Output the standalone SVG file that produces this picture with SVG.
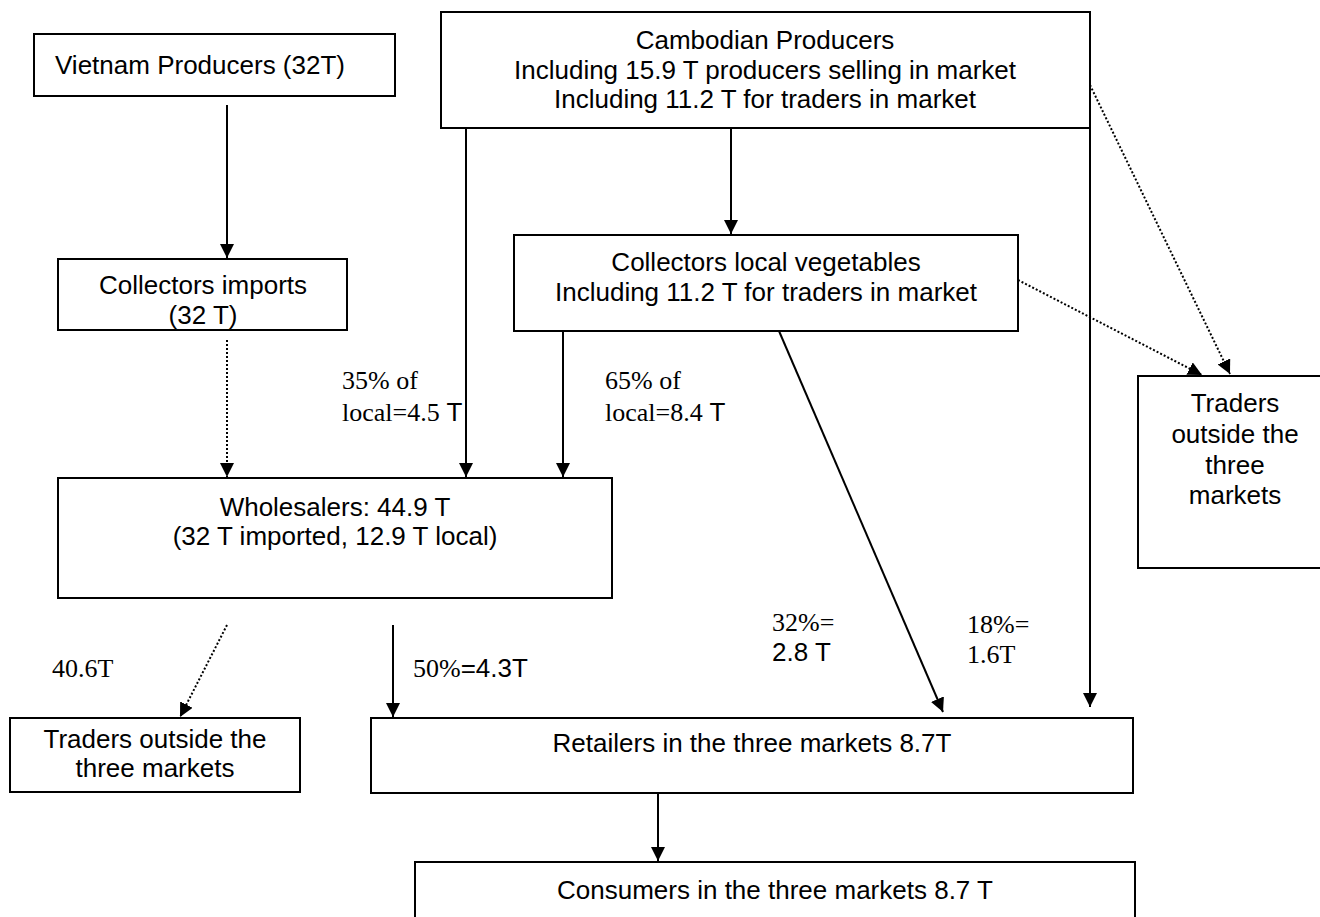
<svg xmlns="http://www.w3.org/2000/svg" width="1320" height="917" viewBox="0 0 1320 917">
  <style>
    .box { fill: #ffffff; stroke: #000000; stroke-width: 2; }
    .lbl { font-family: "Liberation Sans", Arial, sans-serif; font-size: 26px; fill: #000000; }
    .mid { text-anchor: middle; }
    .ser { font-family: "Liberation Serif", "Times New Roman", serif; font-size: 26px; fill: #000000; }
    .solid { fill: none; stroke: #000000; stroke-width: 2; }
    .dot { fill: none; stroke: #000000; stroke-width: 2; stroke-dasharray: 2 2; }
  </style>
  <defs>
    <marker id="arrow" viewBox="0 0 12 12" refX="12" refY="6" markerWidth="7" markerHeight="7" markerUnits="strokeWidth" orient="auto">
      <path d="M0,0 L12,6 L0,12 Z" fill="#000000"/>
    </marker>
  </defs>
  <rect width="1320" height="917" fill="#ffffff"/>

  <g id="vietnam-producers">
    <rect class="box" x="34" y="34" width="361" height="62"/>
    <text class="lbl" x="55" y="74">Vietnam Producers (32T)</text>
  </g>

  <g id="cambodian-producers">
    <rect class="box" x="441" y="12" width="649" height="116"/>
    <text class="lbl mid" x="765" y="49">Cambodian Producers</text>
    <text class="lbl mid" x="765" y="79">Including 15.9 T producers selling in market</text>
    <text class="lbl mid" x="765" y="108">Including 11.2 T for traders in market</text>
  </g>

  <g id="collectors-imports">
    <rect class="box" x="58" y="259" width="289" height="71"/>
    <text class="lbl mid" x="203" y="294">Collectors imports</text>
    <text class="lbl mid" x="203" y="324">(32 T)</text>
  </g>

  <g id="collectors-local">
    <rect class="box" x="514" y="235" width="504" height="96"/>
    <text class="lbl mid" x="766" y="271">Collectors local vegetables</text>
    <text class="lbl mid" x="766" y="301">Including 11.2 T for traders in market</text>
  </g>

  <g id="traders-outside-right">
    <rect class="box" x="1138" y="376" width="190" height="192"/>
    <text class="lbl mid" x="1235" y="412">Traders</text>
    <text class="lbl mid" x="1235" y="443">outside the</text>
    <text class="lbl mid" x="1235" y="474">three</text>
    <text class="lbl mid" x="1235" y="504">markets</text>
  </g>

  <g id="wholesalers">
    <rect class="box" x="58" y="478" width="554" height="120"/>
    <text class="lbl mid" x="335" y="516">Wholesalers: 44.9 T</text>
    <text class="lbl mid" x="335" y="545">(32 T imported, 12.9 T local)</text>
  </g>

  <g id="traders-outside-left">
    <rect class="box" x="10" y="718" width="290" height="74"/>
    <text class="lbl mid" x="155" y="748">Traders outside the</text>
    <text class="lbl mid" x="155" y="777">three markets</text>
  </g>

  <g id="retailers">
    <rect class="box" x="371" y="718" width="762" height="75"/>
    <text class="lbl mid" x="752" y="752">Retailers in the three markets 8.7T</text>
  </g>

  <g id="consumers">
    <rect class="box" x="415" y="862" width="720" height="70"/>
    <text class="lbl mid" x="775" y="899">Consumers in the three markets 8.7 T</text>
  </g>

  <g id="connectors">
    <line class="solid" x1="227" y1="105" x2="227" y2="258" marker-end="url(#arrow)"/>
    <line class="dot" x1="227" y1="340" x2="227" y2="477" marker-end="url(#arrow)"/>
    <line class="solid" x1="466" y1="128" x2="466" y2="477" marker-end="url(#arrow)"/>
    <line class="solid" x1="731" y1="128" x2="731" y2="234" marker-end="url(#arrow)"/>
    <line class="solid" x1="563" y1="331" x2="563" y2="477" marker-end="url(#arrow)"/>
    <line class="solid" x1="1090" y1="128" x2="1090" y2="707" marker-end="url(#arrow)"/>
    <line class="solid" x1="779" y1="331" x2="943" y2="712" marker-end="url(#arrow)"/>
    <line class="dot" x1="1090" y1="85" x2="1230" y2="374" marker-end="url(#arrow)"/>
    <line class="dot" x1="1018" y1="280" x2="1202" y2="375" marker-end="url(#arrow)"/>
    <line class="dot" x1="227" y1="625" x2="180" y2="717" marker-end="url(#arrow)"/>
    <line class="solid" x1="393" y1="625" x2="393" y2="717" marker-end="url(#arrow)"/>
    <line class="solid" x1="658" y1="793" x2="658" y2="861" marker-end="url(#arrow)"/>
  </g>

  <g id="flow-labels">
    <text class="ser" x="342" y="389">35% of</text>
    <text x="342" y="421"><tspan class="ser">local=4.5</tspan><tspan class="lbl"> T</tspan></text>
    <text class="ser" x="605" y="389">65% of</text>
    <text x="605" y="421"><tspan class="ser">local=8.4</tspan><tspan class="lbl"> T</tspan></text>
    <text class="ser" x="52" y="677">40.6T</text>
    <text x="413" y="677"><tspan class="ser">50%</tspan><tspan class="lbl">=4.3T</tspan></text>
    <text class="ser" x="772" y="631">32%=</text>
    <text class="lbl" x="772" y="661">2.8 T</text>
    <text class="ser" x="967" y="633">18%=</text>
    <text class="ser" x="967" y="663">1.6T</text>
  </g>
</svg>
